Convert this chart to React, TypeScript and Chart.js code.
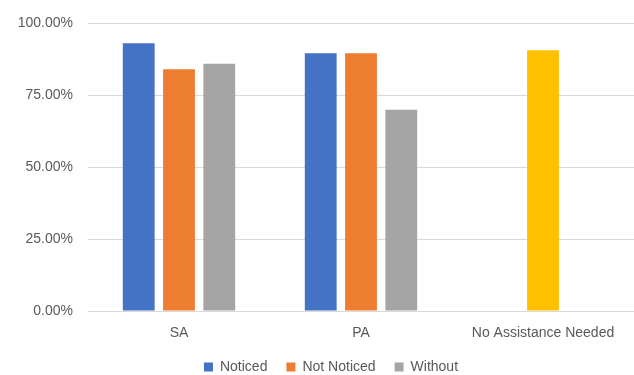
import React, { useEffect, useRef } from "react";
import { Chart, registerables } from "chart.js";

Chart.register(...registerables);

const categories = ["SA", "PA", "No Assistance Needed"];
const noticed = [93.1, 89.6, null];
const notNoticed = [84.1, 89.6, 90.7];
const without = [86.0, 70.0, null];
const yTicks = [0, 25, 50, 75, 100];

const BLUE = "#4472C4";
const ORANGE = "#ED7D31";
const GRAY = "#A5A5A5";
const YELLOW = "#FFC000";
const TEXT = "#595959";
const FONT = "Liberation Sans";
const LEGEND_SHIFT = 14;

const shiftLegend = {
  id: "shiftLegend",
  afterLayout(chart: any) {
    if (chart.legend) {
      chart.legend.left += LEGEND_SHIFT;
      chart.legend.right += LEGEND_SHIFT;
    }
  },
};

export default function App() {
  const ref = useRef<HTMLCanvasElement | null>(null);
  useEffect(() => {
    if (!ref.current) return;
    const chart = new Chart(ref.current, {
      type: "bar",
      data: {
        labels: categories,
        datasets: [
          { label: "Noticed", data: noticed as any, backgroundColor: BLUE },
          {
            label: "Not Noticed",
            data: notNoticed,
            backgroundColor: (ctx: any) => (ctx.dataIndex === 2 ? YELLOW : ORANGE),
          },
          { label: "Without", data: without as any, backgroundColor: GRAY },
        ],
      },
      plugins: [shiftLegend],
      options: {
        animation: false,
        responsive: false,
        maintainAspectRatio: false,
        layout: { padding: { top: 22, right: 0, bottom: 0, left: 0 } },
        datasets: { bar: { categoryPercentage: 0.664, barPercentage: 0.79 } } as any,
        plugins: {
          tooltip: { enabled: false },
          legend: {
            position: "bottom",
            maxHeight: 34,
            labels: {
              boxWidth: 9,
              boxHeight: 9,
              padding: 19,
              color: TEXT,
              font: { family: FONT, size: 14 },
            },
          } as any,
        },
        scales: {
          x: {
            grid: { display: false, drawTicks: false },
            border: { display: true, color: "#D9D9D9", width: 1 },
            ticks: { color: TEXT, font: { family: FONT, size: 14 }, padding: 14 },
            afterFit: (s: any) => {
              s.height = 30;
            },
          },
          y: {
            min: 0,
            max: 100,
            afterBuildTicks: (s: any) => {
              s.ticks = yTicks.map((v) => ({ value: v }));
            },
            grid: { color: "#D9D9D9", drawTicks: false },
            border: { display: false },
            ticks: {
              color: TEXT,
              font: { family: FONT, size: 14 },
              padding: 15,
              callback: (v: any) => Number(v).toFixed(2) + "%",
            },
            afterFit: (s: any) => {
              s.width = 88;
            },
          },
        },
      },
    });
    return () => chart.destroy();
  }, []);
  return (
    <div style={{ position: "fixed", left: 0, top: 0, width: 634, height: 375, background: "#fff" }}>
      <canvas ref={ref} width={634} height={375} />
    </div>
  );
}
